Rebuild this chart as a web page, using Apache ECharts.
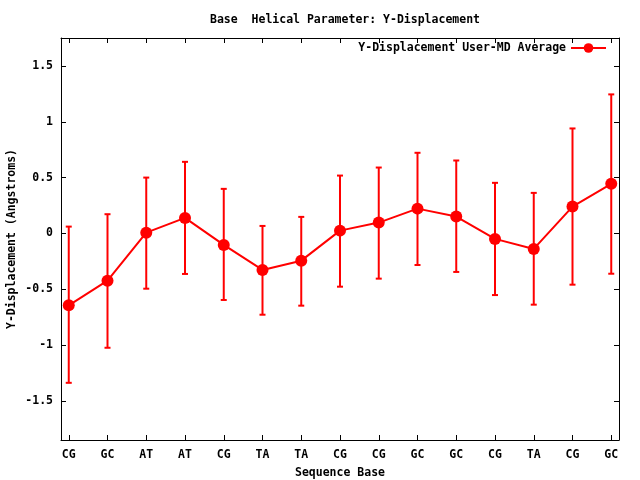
<!DOCTYPE html>
<html>
<head>
<meta charset="utf-8">
<script src="https://cdn.jsdelivr.net/npm/echarts@6/dist/echarts.min.js"></script>
<style>html,body{margin:0;padding:0;background:#fff;}#chart{width:640px;height:480px;}</style>
</head>
<body>
<div id="chart"></div>
<script>
const categories = ['CG','GC','AT','AT','CG','TA','TA','CG','CG','GC','GC','CG','TA','CG','GC'];
const means = [-0.644,-0.423,0.007,0.139,-0.103,-0.327,-0.244,0.025,0.097,0.222,0.151,-0.049,-0.139,0.240,0.444];
const upper = [0.061,0.172,0.500,0.641,0.399,0.067,0.148,0.518,0.590,0.722,0.653,0.453,0.363,0.940,1.245];
const lower = [-1.338,-1.024,-0.495,-0.363,-0.596,-0.728,-0.647,-0.477,-0.405,-0.283,-0.345,-0.552,-0.638,-0.459,-0.361];
const yTicks = [-1.5,-1,-0.5,0,0.5,1,1.5];
const seriesName = 'Y-Displacement User-MD Average';
const titleText = 'Base  Helical Parameter: Y-Displacement';

const FONT = 'DejaVu Sans Mono';
const txt = {fontFamily: FONT, fontWeight: 'bold', fontSize: 11.5, color: '#000'};
const xIdx = categories.map((c, i) => i);

const chart = echarts.init(document.getElementById('chart'), null, {renderer: 'canvas'});

const axisLine = {show: true, onZero: false, lineStyle: {color: '#000', width: 1}};
const tickBase = {show: true, inside: true, length: 5, lineStyle: {color: '#000', width: 1}};

chart.setOption({
  animation: false,
  backgroundColor: '#fff',
  title: {
    text: titleText, left: 340, top: 9, textAlign: 'center',
    textStyle: Object.assign({}, txt)
  },
  legend: {
    data: [seriesName], align: 'right', right: 28, top: 37,
    itemWidth: 35, itemHeight: 12, textStyle: Object.assign({}, txt),
    selectedMode: false
  },
  grid: {left: 61, right: 21, top: 38, bottom: 40, containLabel: false, outerBoundsMode: 'none'},
  xAxis: [{
    type: 'value', min: -0.2, max: 14.2, position: 'bottom',
    name: 'Sequence Base', nameLocation: 'middle', nameGap: 27, nameMoveOverlap: false,
    nameTextStyle: Object.assign({}, txt),
    axisLine: axisLine,
    axisTick: Object.assign({customValues: xIdx}, tickBase),
    axisLabel: Object.assign({customValues: xIdx, margin: 9, formatter: v => categories[Math.round(v)]}, txt),
    splitLine: {show: false}
  }, {
    type: 'value', min: -0.2, max: 14.2, position: 'top',
    axisLine: axisLine,
    axisTick: Object.assign({customValues: xIdx}, tickBase),
    axisLabel: {show: false},
    splitLine: {show: false}
  }],
  yAxis: [{
    type: 'value', min: -1.85, max: 1.75, position: 'left',
    name: 'Y-Displacement (Angstroms)', nameLocation: 'middle', nameGap: 43, nameMoveOverlap: false,
    nameTextStyle: Object.assign({}, txt),
    axisLine: axisLine,
    axisTick: Object.assign({customValues: yTicks}, tickBase),
    axisLabel: Object.assign({customValues: yTicks, margin: 8, formatter: v => String(v)}, txt),
    splitLine: {show: false}
  }, {
    type: 'value', min: -1.85, max: 1.75, position: 'right',
    axisLine: axisLine,
    axisTick: Object.assign({customValues: yTicks}, tickBase),
    axisLabel: {show: false},
    splitLine: {show: false}
  }],
  series: [{
    name: 'errorbars',
    type: 'custom',
    xAxisIndex: 0, yAxisIndex: 0,
    data: xIdx.map(i => [i, lower[i], upper[i]]),
    encode: {x: 0, y: [1, 2]},
    renderItem: function (params, api) {
      const x = api.value(0), lo = api.value(1), hi = api.value(2);
      const p1 = api.coord([x, hi]);
      const p2 = api.coord([x, lo]);
      const w = 3;
      const st = {stroke: '#ff0000', lineWidth: 2};
      return {
        type: 'group',
        children: [
          {type: 'line', shape: {x1: p1[0], y1: p1[1], x2: p2[0], y2: p2[1]}, style: st},
          {type: 'line', shape: {x1: p1[0] - w, y1: p1[1], x2: p1[0] + w, y2: p1[1]}, style: st},
          {type: 'line', shape: {x1: p2[0] - w, y1: p2[1], x2: p2[0] + w, y2: p2[1]}, style: st}
        ]
      };
    },
    z: 2
  }, {
    name: seriesName,
    type: 'line',
    xAxisIndex: 0, yAxisIndex: 0,
    data: xIdx.map(i => [i, means[i]]),
    symbol: 'circle', symbolSize: 12,
    itemStyle: {color: '#ff0000'},
    lineStyle: {color: '#ff0000', width: 2},
    z: 3
  }]
});
</script>
</body>
</html>
